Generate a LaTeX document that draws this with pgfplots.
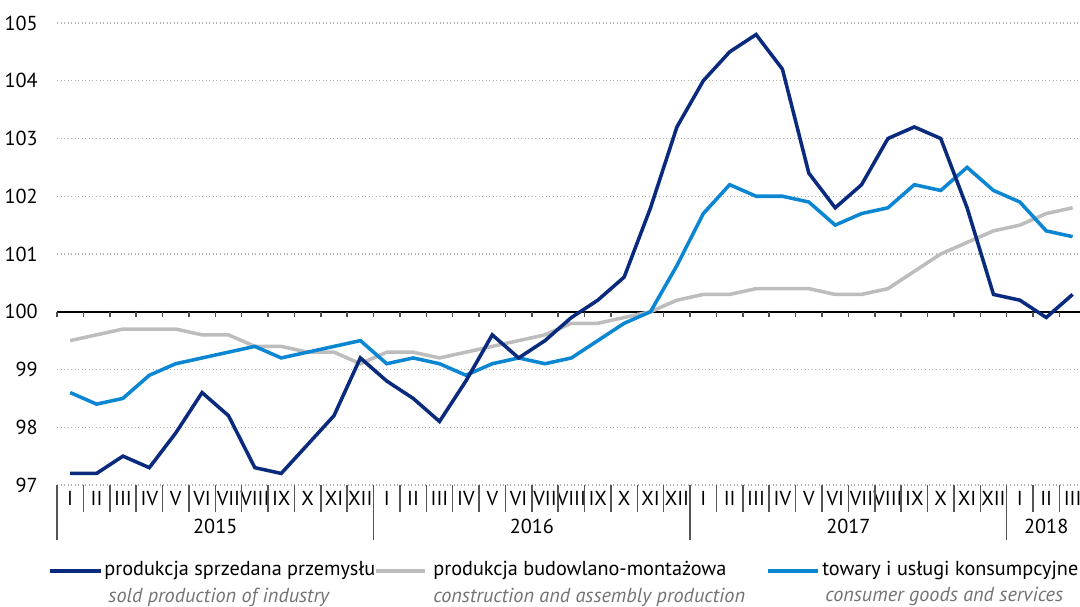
\documentclass[border=0pt]{standalone}
\usepackage{fontspec}
\setmainfont{PT Sans}
\usepackage{pgfplots}
\pgfplotsset{compat=1.18}
\definecolor{ciemny}{HTML}{0A2A7E}
\definecolor{jasny}{HTML}{0A86D2}
\definecolor{szary}{HTML}{BDBDBD}
\definecolor{siatka}{HTML}{B0B0B0}
\definecolor{kreska}{HTML}{555555}

% 2015-I .. 2018-III, x = 0..38
\pgfplotstableread{
x  przem  bud    kons
0  97.2   99.5   98.6
1  97.2   99.6   98.4
2  97.5   99.7   98.5
3  97.3   99.7   98.9
4  97.9   99.7   99.1
5  98.6   99.6   99.2
6  98.2   99.6   99.3
7  97.3   99.4   99.4
8  97.2   99.4   99.2
9  97.7   99.3   99.3
10 98.2   99.3   99.4
11 99.2   99.1   99.5
12 98.8   99.3   99.1
13 98.5   99.3   99.2
14 98.1   99.2   99.1
15 98.8   99.3   98.9
16 99.6   99.4   99.1
17 99.2   99.5   99.2
18 99.5   99.6   99.1
19 99.9   99.8   99.2
20 100.2  99.8   99.5
21 100.6  99.9   99.8
22 101.8  100.0  100.0
23 103.2  100.2  100.8
24 104.0  100.3  101.7
25 104.5  100.3  102.2
26 104.8  100.4  102.0
27 104.2  100.4  102.0
28 102.4  100.4  101.9
29 101.8  100.3  101.5
30 102.2  100.3  101.7
31 103.0  100.4  101.8
32 103.2  100.7  102.2
33 103.0  101.0  102.1
34 101.8  101.2  102.5
35 100.3  101.4  102.1
36 100.2  101.5  101.9
37 99.9   101.7  101.4
38 100.3  101.8  101.3
}\dane

\newcommand{\fs}{\fontsize{8}{9.6}\selectfont}

\begin{document}
\begin{tikzpicture}
\begin{axis}[
  scale only axis,
  width=14.208cm, height=6.4167cm,
  xmin=-0.5, xmax=38.28,
  ymin=97, ymax=105,
  ytick={97,...,105},
  xtick={0,...,38},
  xticklabels={I,II,III,IV,V,VI,VII,VIII,IX,X,XI,XII,
               I,II,III,IV,V,VI,VII,VIII,IX,X,XI,XII,
               I,II,III,IV,V,VI,VII,VIII,IX,X,XI,XII,
               I,II,III},
  major tick length=0pt,
  axis line style={draw=none},
  ymajorgrids,
  grid style={siatka, densely dotted, line width=0.5pt},
  tick label style={font=\fs},
  xticklabel style={anchor=center, yshift=-0.19cm, inner sep=0pt},
  yticklabel style={anchor=east, xshift=-0.26cm, inner sep=0pt},
  /pgf/number format/assume math mode=true,
  clip=false,
]
  % os na poziomie 100
  \draw[black, line width=0.6pt] (axis cs:-0.5,100) -- (axis cs:38.28,100);
  \pgfplotsinvokeforeach{-0.5,0.5,...,37.5}{
    \draw[black!70, line width=0.6pt] (axis cs:#1,100) -- ([yshift=-0.075cm]axis cs:#1,100);
    \draw[kreska, line width=0.6pt] (axis cs:#1,97) -- ([yshift=-0.375cm]axis cs:#1,97);
  }
  \pgfplotsinvokeforeach{-0.5,11.5,23.5,35.5}{
    \draw[kreska, line width=0.6pt] (axis cs:#1,97) -- ([yshift=-0.76cm]axis cs:#1,97);
  }
  \node[font=\fs] at ([yshift=-0.58cm]axis cs:5.5,97) {2015};
  \node[font=\fs] at ([yshift=-0.58cm]axis cs:17.5,97) {2016};
  \node[font=\fs] at ([yshift=-0.58cm]axis cs:29.5,97) {2017};
  \node[font=\fs] at ([yshift=-0.58cm]axis cs:37,97) {2018};

  \addplot[szary, line width=1.4pt] table[x=x, y=bud] {\dane};
  \addplot[jasny, line width=1.4pt] table[x=x, y=kons] {\dane};
  \addplot[ciemny, line width=1.4pt] table[x=x, y=przem] {\dane};

  \coordinate (L) at (rel axis cs:0,0);
\end{axis}
% legenda
\begin{scope}[shift={(L)}, x=0.013889cm, y=0.013889cm,
  every node/.style={anchor=west, inner sep=0pt, font=\fs}]
  \draw[ciemny, line width=1.4pt] (-7,-86) -- (44,-86);
  \node at (47,-86) {produkcja sprzedana przemysłu};
  \node[text=black!55, font=\fs\itshape] at (51,-112) {sold production of industry};
  \draw[szary, line width=1.4pt] (319,-86) -- (368,-86);
  \node at (376,-86) {produkcja budowlano-montażowa};
  \node[text=black!55, font=\fs\itshape] at (376,-112) {construction and assembly production};
  \draw[jasny, line width=1.4pt] (711,-86) -- (761,-86);
  \node at (765,-86) {towary i usługi konsumpcyjne};
  \node[text=black!55, font=\fs\itshape] at (768,-112) {consumer goods and services};
\end{scope}
\pgfresetboundingbox
\path[use as bounding box] ([shift={(-0.7917cm,-1.6944cm)}]L) rectangle ([shift={(14.208cm,6.7361cm)}]L);
\end{tikzpicture}
\end{document}
